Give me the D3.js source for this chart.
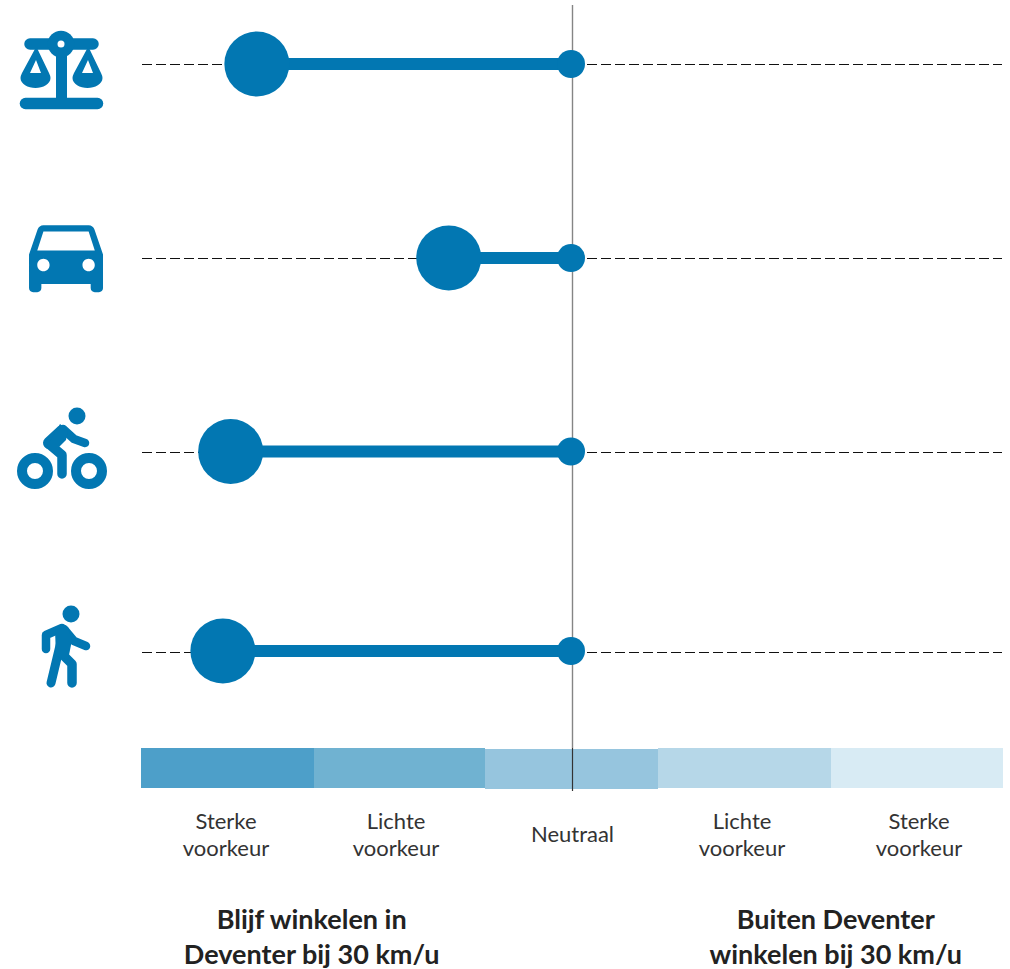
<!DOCTYPE html>
<html><head><meta charset="utf-8">
<script src="https://cdn.jsdelivr.net/npm/d3@7"></script>
<style>
html,body{margin:0;padding:0;background:#fff}
svg{display:block}
text{font-family:Lato,"Noto Sans",sans-serif;text-anchor:middle}
</style></head><body><svg id="c" width="1010" height="969"></svg>
<script>
const rowNames = ["Rechtvaardigheid","Auto","Fiets","Lopen"];
const rowValues = [-1.828, -0.715, -1.98, -2.025];
const rowY = [64, 258, 451.5, 651];
const neutral = [0, 0, 0, 0];
const bandLabels = [["Sterke","voorkeur"],["Lichte","voorkeur"],["Neutraal"],["Lichte","voorkeur"],["Sterke","voorkeur"]];
const bandStops = [-2.5,-1.497,-0.507,0.497,1.5,2.5];
const bandColors = ["#4d9fc9","#70b2d1","#96c5de","#b6d7e8","#d8ebf4"];
const groupLabels = [["Blijf winkelen in","Deventer bij 30 km/u"],["Buiten Deventer","winkelen bij 30 km/u"]];
const groupCentres = [-1.51, 1.53];
const blue = "#0277b2", ink = "#222";

const svg = d3.select("#c");
const x = d3.scaleLinear().domain([-2.5,2.5]).range([141,1003]);
const y = d3.scaleOrdinal().domain(rowNames).range(rowY);

// bands
svg.selectAll("rect.band").data(bandColors).join("rect").attr("class","band")
  .attr("x",(d,i)=>x(bandStops[i])).attr("width",(d,i)=>x(bandStops[i+1])-x(bandStops[i]))
  .attr("y",(d,i)=>i===2?749:748).attr("height",40).attr("fill",d=>d).attr("shape-rendering","crispEdges");

// neutral axis
svg.append("line").attr("x1",x(0)+.5).attr("x2",x(0)+.5).attr("y1",5).attr("y2",748).attr("stroke","#858585").attr("stroke-width",1.4);
svg.append("line").attr("x1",x(0)+.5).attr("x2",x(0)+.5).attr("y1",748).attr("y2",791).attr("stroke","#333").attr("stroke-width",1.2);

// dashed guides
const g = svg.selectAll("g.row").data(rowNames).join("g").attr("class","row");
g.append("line").attr("x1",142).attr("x2",572).attr("y1",(d,i)=>i==3?652:Math.round(y(d))).attr("y2",(d,i)=>i==3?652:Math.round(y(d)))
  .attr("stroke","#111").attr("stroke-width",1).attr("stroke-dasharray","10 4")
  .attr("shape-rendering","crispEdges");
g.append("line").attr("x1",587).attr("x2",1002).attr("y1",(d,i)=>i==3?652:Math.round(y(d))).attr("y2",(d,i)=>i==3?652:Math.round(y(d)))
  .attr("stroke","#111").attr("stroke-width",1).attr("stroke-dasharray","10 4")
  .attr("shape-rendering","crispEdges");
g.append("line").attr("x1",(d,i)=>x(rowValues[i])).attr("x2",(d,i)=>x(neutral[i])).attr("y1",d=>y(d)).attr("y2",d=>y(d))
  .attr("stroke",blue).attr("stroke-width",12);
g.append("circle").attr("cx",(d,i)=>x(rowValues[i])).attr("cy",d=>y(d)).attr("r",32.5).attr("fill",blue);
g.append("circle").attr("cx",(d,i)=>x(neutral[i])-1).attr("cy",d=>y(d)).attr("r",14).attr("fill",blue);

// band labels
svg.selectAll("text.band").data(bandLabels).join("text").attr("class","band")
  .attr("transform",(d,i)=>`translate(${[226,396,572.5,742,919][i]},0)`)
  .attr("fill","#333").attr("font-size",22).each(function(d){
    const t=d3.select(this);
    const ys=d.length===1?[842]:[829,856];
    d.forEach((s,j)=>t.append("tspan").attr("x",0).attr("y",ys[j]).text(s));
  });
// group labels
svg.selectAll("text.group").data(groupLabels).join("text").attr("class","group")
  .attr("transform",(d,i)=>`translate(${x(groupCentres[i])},0)`)
  .attr("fill",ink).attr("font-size",27).attr("font-weight",700).each(function(d){
    const t=d3.select(this);
    d.forEach((s,j)=>t.append("tspan").attr("x",0).attr("y",[929,964][j]).text(s));
  });

// icons
const ic = svg.append("g").attr("fill",blue);
const S = (d,w)=>ic.append("path").attr("d",d).attr("fill","none").attr("stroke",blue).attr("stroke-width",w).attr("stroke-linecap","round").attr("stroke-linejoin","round");
// scales
S("M25.5 103.5H97.5",11.5); S("M30 44H93",11.5);
ic.append("rect").attr("x",56).attr("y",44).attr("width",11).attr("height",56);
const panD = "M35.5 48L22 73Q20.5 76 20.5 78C20.5 84 28 88 35.5 88C43 88 50.5 84 50.5 78Q50.5 76 49 73L37 48ZM36 60L30 73H41Z";
ic.append("path").attr("d",panD).attr("fill-rule","evenodd");
ic.append("path").attr("transform","translate(52,0)").attr("d",panD).attr("fill-rule","evenodd");
ic.append("circle").attr("cx",61).attr("cy",44).attr("r",13.3);
ic.append("circle").attr("cx",61).attr("cy",44).attr("r",3.5).attr("fill","#fff");
// car
ic.append("path").attr("transform","translate(16.7,204.3) scale(4.11,4.19)")
  .attr("d","M18.92 6.01C18.72 5.42 18.16 5 17.5 5h-11c-.66 0-1.21.42-1.42 1.01L3 12v8c0 .55.45 1 1 1h1c.55 0 1-.45 1-1v-1h12v1c0 .55.45 1 1 1h1c.55 0 1-.45 1-1v-8l-2.08-5.99zM6.5 16c-.83 0-1.5-.67-1.5-1.5S5.67 13 6.5 13s1.5.67 1.5 1.5S7.33 16 6.5 16zm11 0c-.83 0-1.5-.67-1.5-1.5s.67-1.5 1.5-1.5 1.5.67 1.5 1.5-.67 1.5-1.5 1.5zM5 11l1.5-4.5h11L19 11H5z");
// bike
ic.append("circle").attr("cx",77).attr("cy",416).attr("r",8.5);
[35,89].forEach(c=>ic.append("circle").attr("cx",c).attr("cy",471).attr("r",13).attr("fill","none").attr("stroke",blue).attr("stroke-width",10));
S("M49 443L62 431",12); S("M49 444L62 455V474",9.5); S("M63 429L74 439L85 443",8.5);
ic.append("path").attr("d","M60 424L68 430L66 440L58 448L46 448Z");
// walker
ic.append("circle").attr("cx",71).attr("cy",614).attr("r",8.5);
S("M46 649V635L62 628",8.5); S("M64 629L74 641L86 646",8.5);
S("M63 633L51 683",9); S("M62 654L72 664V683",9.5);
ic.append("path").attr("d","M55 630L68 627L72 640L68 660L56 656Z");
</script></body></html>
